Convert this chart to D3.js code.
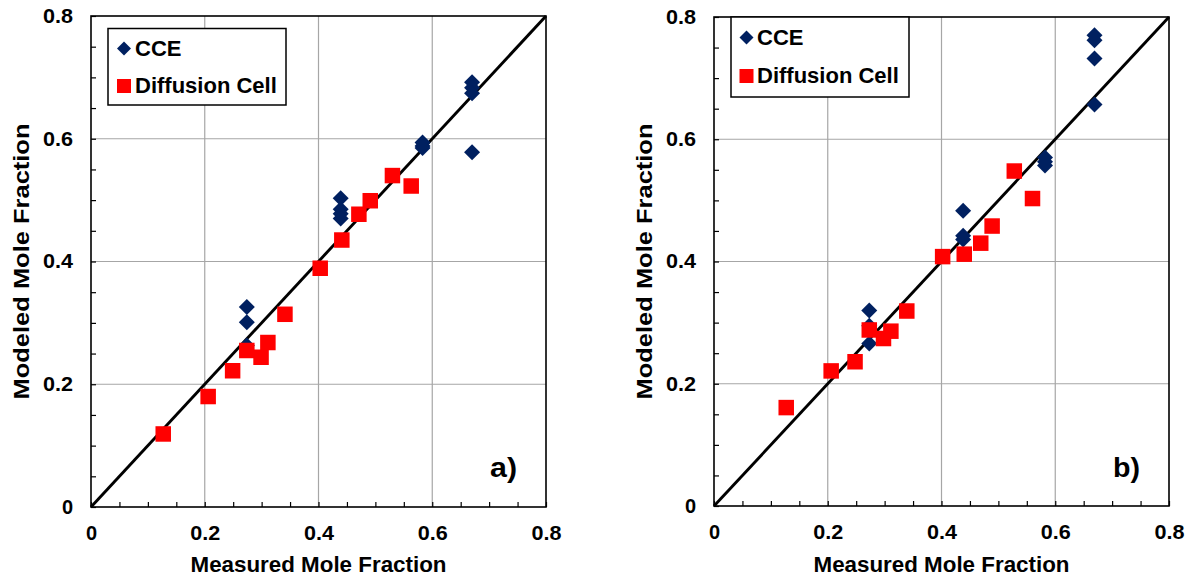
<!DOCTYPE html>
<html><head><meta charset="utf-8">
<script src="https://cdn.jsdelivr.net/npm/d3@7"></script>
<style>
body{margin:0;background:#fff;}
svg{display:block;font-family:"Liberation Sans",Arial,sans-serif;}
</style></head>
<body><svg id="c" width="1194" height="581"></svg>
<script>
// ---- data ----
const majorTicks = [0, 0.2, 0.4, 0.6, 0.8];
const tickLabels = ["0", "0.2", "0.4", "0.6", "0.8"];
const seriesNames = ["CCE", "Diffusion Cell"];
const panelLabels = ["a)", "b)"];
const xTitle = "Measured Mole Fraction";
const yTitle = "Modeled Mole Fraction";

// Panel a)
const cceA_x = [0.670, 0.670, 0.670, 0.670, 0.583, 0.583, 0.583, 0.439, 0.439, 0.439, 0.439, 0.274, 0.274, 0.274];
const cceA_y = [0.692, 0.683, 0.674, 0.578, 0.594, 0.588, 0.585, 0.503, 0.485, 0.478, 0.470, 0.326, 0.301, 0.263];
const diffA_x = [0.127, 0.206, 0.249, 0.274, 0.299, 0.311, 0.341, 0.403, 0.441, 0.471, 0.491, 0.530, 0.563];
const diffA_y = [0.119, 0.180, 0.222, 0.255, 0.244, 0.268, 0.314, 0.389, 0.435, 0.477, 0.499, 0.540, 0.523];

// Panel b)
const cceB_x = [0.669, 0.669, 0.669, 0.669, 0.582, 0.582, 0.582, 0.438, 0.438, 0.438, 0.273, 0.273, 0.273];
const cceB_y = [0.770, 0.762, 0.732, 0.657, 0.570, 0.563, 0.557, 0.483, 0.442, 0.436, 0.320, 0.295, 0.266];
const diffB_x = [0.127, 0.206, 0.248, 0.273, 0.298, 0.311, 0.339, 0.402, 0.440, 0.469, 0.489, 0.528, 0.560];
const diffB_y = [0.161, 0.221, 0.236, 0.288, 0.274, 0.286, 0.319, 0.408, 0.412, 0.430, 0.458, 0.548, 0.503];

const colors = {cce: "#002060", diff: "#ff0000"};

const panels = [
  {label: panelLabels[0], xr: [91, 546], yr: [507, 16], cx: cceA_x, cy: cceA_y, dx: diffA_x, dy: diffA_y,
   legend: {x: 108, y: 28.5, w: 178, h: 76.5, r1: 48.5, r2: 86, mx: 124, tx: 135}, ytx: 29, lab: {x: 490, y: 477}},
  {label: panelLabels[1], xr: [714, 1169], yr: [506, 17], cx: cceB_x, cy: cceB_y, dx: diffB_x, dy: diffB_y,
   legend: {x: 731, y: 17, w: 178, h: 80, r1: 37.5, r2: 76, mx: 746.5, tx: 757}, ytx: 652, lab: {x: 1113, y: 477}}
];

const svg = d3.select("#c");
const minor = d3.range(0, 0.8001, 0.05);
const diamondPath = r => `M0,${-r}L${r},0L0,${r}L${-r},0Z`;

panels.forEach(p => {
  const x = d3.scaleLinear().domain([0, 0.8]).range(p.xr);
  const y = d3.scaleLinear().domain([0, 0.8]).range(p.yr);
  const g = svg.append("g");

  // gridlines
  g.append("g").selectAll("line").data(majorTicks.slice(1, -1)).join("line")
    .attr("x1", d => x(d)).attr("x2", d => x(d)).attr("y1", p.yr[0]).attr("y2", p.yr[1])
    .attr("stroke", "#a6a6a6").attr("stroke-width", 1.2);
  g.append("g").selectAll("line").data(majorTicks.slice(1, -1)).join("line")
    .attr("y1", d => y(d)).attr("y2", d => y(d)).attr("x1", p.xr[0]).attr("x2", p.xr[1])
    .attr("stroke", "#a6a6a6").attr("stroke-width", 1.2);

  // minor ticks (inside)
  const ax = g.append("g").attr("transform", `translate(0,${p.yr[0]})`)
    .call(d3.axisBottom(x).tickValues(minor).tickSize(-5).tickFormat(""));
  const ay = g.append("g").attr("transform", `translate(${p.xr[0]},0)`)
    .call(d3.axisLeft(y).tickValues(minor).tickSize(-5).tickFormat(""));
  [ax, ay].forEach(a => { a.select(".domain").remove(); a.selectAll("line").attr("stroke", "#000").attr("stroke-width", 1.2); });

  // tick labels
  const lx = g.append("g").attr("transform", `translate(0,${p.yr[0]})`)
    .call(d3.axisBottom(x).tickValues(majorTicks).tickSize(0).tickPadding(19).tickFormat((d, i) => tickLabels[i]));
  const ly = g.append("g").attr("transform", `translate(${p.xr[0]},0)`)
    .call(d3.axisLeft(y).tickValues(majorTicks).tickSize(0).tickPadding(18).tickFormat((d, i) => tickLabels[i]));
  [lx, ly].forEach(a => {
    a.select(".domain").remove();
    a.selectAll("text").attr("font-size", 20).attr("font-weight", "bold").attr("fill", "#000")
      .attr("font-family", "Liberation Sans, Arial, sans-serif")
      .attr("textLength", (d, i) => tickLabels[i].length > 1 ? 30 : null)
      .attr("lengthAdjust", "spacingAndGlyphs");
  });

  // border
  g.append("rect").attr("x", p.xr[0]).attr("y", p.yr[1])
    .attr("width", p.xr[1] - p.xr[0]).attr("height", p.yr[0] - p.yr[1])
    .attr("fill", "none").attr("stroke", "#000").attr("stroke-width", 1.6);

  // 1:1 line
  g.append("line").attr("x1", x(0)).attr("y1", y(0)).attr("x2", x(0.8)).attr("y2", y(0.8))
    .attr("stroke", "#000").attr("stroke-width", 2.9);

  // CCE diamonds
  g.append("g").selectAll("path").data(d3.zip(p.cx, p.cy)).join("path")
    .attr("d", diamondPath(8)).attr("transform", d => `translate(${x(d[0])},${y(d[1])})`)
    .attr("fill", colors.cce);

  // Diffusion squares
  const sq = 15.5;
  g.append("g").selectAll("rect").data(d3.zip(p.dx, p.dy)).join("rect")
    .attr("x", d => x(d[0]) - sq / 2).attr("y", d => y(d[1]) - sq / 2)
    .attr("width", sq).attr("height", sq).attr("fill", colors.diff);

  // axis titles
  g.append("text").attr("x", (p.xr[0] + p.xr[1]) / 2 - 128).attr("y", 572)
    .attr("font-size", 21.5).attr("font-weight", "bold")
    .attr("textLength", 256).attr("lengthAdjust", "spacingAndGlyphs").text(xTitle);
  g.append("text").attr("transform", `translate(${p.ytx},${(p.yr[0] + p.yr[1]) / 2 + 138}) rotate(-90)`)
    .attr("font-size", 21.5).attr("font-weight", "bold")
    .attr("textLength", 276).attr("lengthAdjust", "spacingAndGlyphs").text(yTitle);

  // legend
  const L = p.legend;
  const lg = g.append("g");
  lg.append("rect").attr("x", L.x).attr("y", L.y).attr("width", L.w).attr("height", L.h)
    .attr("fill", "#fff").attr("stroke", "#000").attr("stroke-width", 1.5);
  lg.append("path").attr("d", diamondPath(7))
    .attr("transform", `translate(${L.mx},${L.r1})`).attr("fill", colors.cce);
  lg.append("rect").attr("x", L.mx - 7).attr("y", L.r2 - 7).attr("width", 14).attr("height", 14).attr("fill", colors.diff);
  lg.selectAll("text").data(seriesNames).join("text")
    .attr("x", L.tx).attr("y", (d, i) => (i ? L.r2 : L.r1) + 7)
    .attr("font-size", 22).attr("font-weight", "bold").text(d => d);

  // panel label
  g.append("text").attr("x", p.lab.x).attr("y", p.lab.y)
    .attr("font-size", 27).attr("font-weight", "bold")
    .attr("textLength", 27).attr("lengthAdjust", "spacingAndGlyphs").text(p.label);
});
</script></body></html>
